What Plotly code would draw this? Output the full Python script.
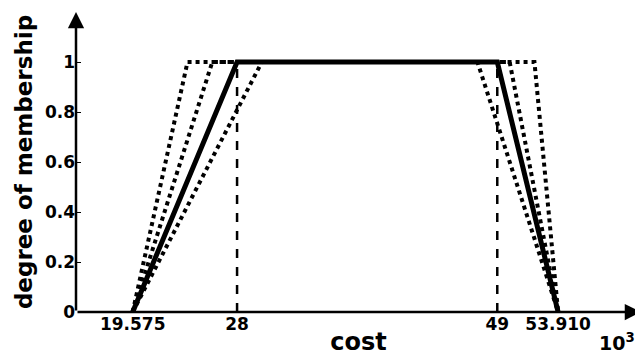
import plotly.graph_objects as go

# Data (cost in 10^3)
x_solid = [19.575, 28, 49, 53.91]
y_solid = [0, 1, 1, 0]
x_dot1 = [19.575, 24, 52, 53.91]
x_dot2 = [19.575, 26, 50, 53.91]
x_dot3 = [19.575, 30, 47.4, 53.91]
y_trap = [0, 1, 1, 0]
x_dash = [28, 49]
xtick_vals = [19.575, 28, 49, 53.91]
xtick_text = ["19.575", "28", "49", "53.910"]
ytick_vals = [0, 0.2, 0.4, 0.6, 0.8, 1]
ytick_text = ["0", "0.2", "0.4", "0.6", "0.8", "1"]

FONT = "DejaVu Sans"
fig = go.Figure()

for xs in (x_dot1, x_dot2, x_dot3):
    fig.add_trace(go.Scatter(x=xs, y=y_trap, mode="lines",
                             line=dict(color="black", width=4, dash="dot"),
                             showlegend=False, hoverinfo="skip"))
for xv in x_dash:
    fig.add_trace(go.Scatter(x=[xv, xv], y=[0, 1], mode="lines",
                             line=dict(color="black", width=2.5, dash="dash"),
                             showlegend=False, hoverinfo="skip"))
fig.add_trace(go.Scatter(x=x_solid, y=y_solid, mode="lines",
                         line=dict(color="black", width=5),
                         showlegend=False, hoverinfo="skip"))

XMIN, XMAX = 15, 60.6
YMIN, YMAX = 0, 1.2

annotations = [
    dict(x=XMAX, y=0, ax=XMIN, ay=0, xref="x", yref="y", axref="x", ayref="y",
         showarrow=True, arrowhead=2, arrowsize=1.3, arrowwidth=2.5,
         arrowcolor="black", text=""),
    dict(x=XMIN, y=YMAX, ax=XMIN, ay=0, xref="x", yref="y", axref="x", ayref="y",
         showarrow=True, arrowhead=2, arrowsize=1.3, arrowwidth=2.5,
         arrowcolor="black", text=""),
    dict(x=0.957, y=-0.1, xref="paper", yref="paper", showarrow=False,
         text="<b>10<sup>3</sup></b>", font=dict(family=FONT, size=19, color="black"),
         xanchor="center", yanchor="middle"),
]

fig.update_layout(
    width=635, height=348,
    margin=dict(l=68, r=2, t=4, b=44, autoexpand=False),
    paper_bgcolor="white", plot_bgcolor="white",
    annotations=annotations,
    xaxis=dict(range=[XMIN, XMAX], showgrid=False, zeroline=False, showline=False,
               automargin=False,
               tickmode="array", tickvals=xtick_vals, ticktext=["<b>%s</b>" % t for t in xtick_text],
               ticks="", tickfont=dict(family=FONT, size=17, color="black"),
               title=dict(text="<b>cost</b>", font=dict(family=FONT, size=24, color="black"),
                          standoff=0)),
    yaxis=dict(range=[YMIN, YMAX], showgrid=False, zeroline=False, showline=False,
               automargin=False,
               tickmode="array", tickvals=ytick_vals, ticktext=["<b>%s</b>" % t for t in ytick_text],
               ticks="inside", ticklen=5, tickwidth=1, tickcolor="black",
               tickfont=dict(family=FONT, size=17, color="black"),
               title=dict(text="<b>degree of membership</b>",
                          font=dict(family=FONT, size=23, color="black"), standoff=5)),
)

fig.write_html("out.html")
